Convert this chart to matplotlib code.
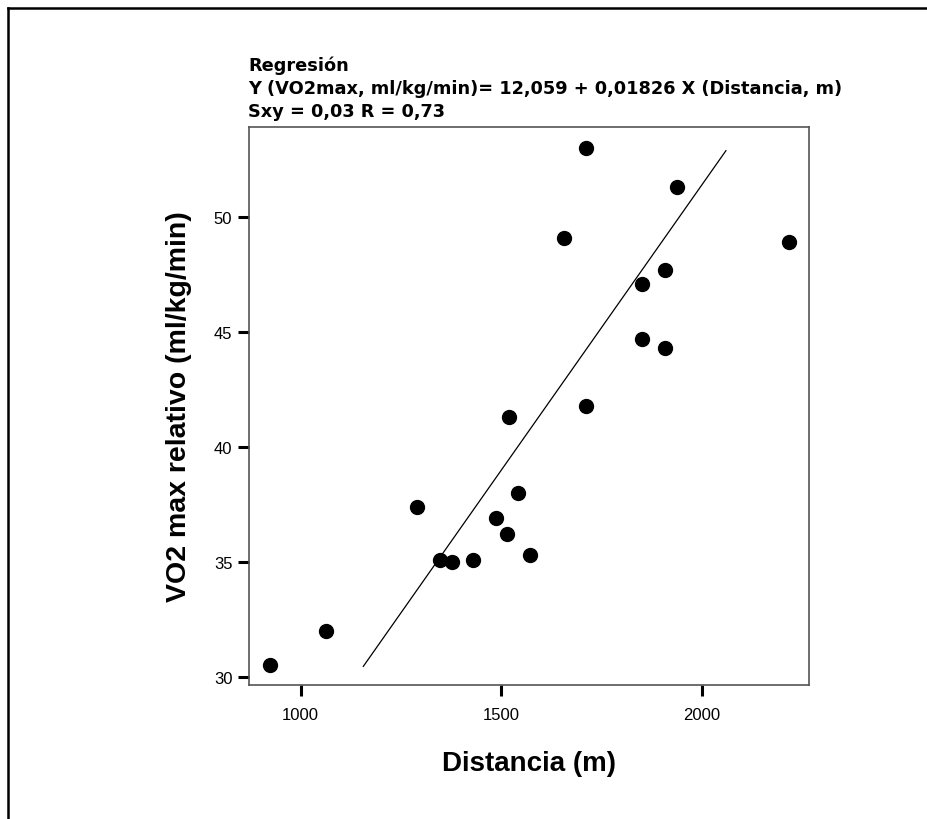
import numpy as np
import matplotlib.pyplot as plt
from matplotlib.lines import Line2D

# data
distancia = [923, 1064, 1289, 1347, 1376, 1429, 1486, 1515, 1518, 1541,
             1572, 1657, 1711, 1711, 1850, 1850, 1908, 1908, 1938, 2218]
vo2max = [30.5, 32.0, 37.4, 35.1, 35.0, 35.1, 36.9, 36.2, 41.3, 38.0,
          35.3, 49.1, 53.0, 41.8, 47.1, 44.7, 47.7, 44.3, 51.3, 48.9]

# fitted line as drawn (end points)
fit_x = [1156, 2060]
fit_y = [30.46, 52.88]

titulo = ['Regresión',
          'Y (VO2max, ml/kg/min)= 12,059 + 0,01826 X (Distancia, m)',
          'Sxy = 0,03 R = 0,73']

plt.rcParams['font.family'] = ['Liberation Sans', 'DejaVu Sans']

fig = plt.figure(figsize=(9.28, 8.2), dpi=100)
ax = fig.add_axes([0.2683, 0.1634, 0.6034, 0.6805])

ax.plot(fit_x, fit_y, color='black', linewidth=0.9)
ax.plot(distancia, vo2max, 'o', color='black', markersize=10)

ax.set_xlim(871, 2267)
ax.set_ylim(29.65, 53.91)
ax.set_xticks([1000, 1500, 2000])
ax.set_yticks([30, 35, 40, 45, 50])

for s in ax.spines.values():
    s.set_color('#555555')
    s.set_linewidth(1.2)
ax.tick_params(direction='out', length=8, width=2.2, color='black',
               labelsize=12, pad=4)
ax.tick_params(axis='x', pad=8)

ax.set_xlabel('Distancia (m)', fontsize=20, fontweight='bold', labelpad=20)
ax.set_ylabel('VO2 max relativo (ml/kg/min)', fontsize=20.5, fontweight='bold', labelpad=16)

# title block
ys = [66, 89, 112]
for t, y in zip(titulo, ys):
    fig.text(248 / 928, 1 - y / 820, t, fontsize=12.8, fontweight='bold',
             family='DejaVu Sans', ha='left', va='center')

# outer frame (left and top only)
fig.add_artist(Line2D([7.5 / 928, 7.5 / 928], [0, 1 - 9 / 820], color='black',
                      linewidth=1.8, transform=fig.transFigure))
fig.add_artist(Line2D([7.5 / 928, 1], [1 - 9 / 820, 1 - 9 / 820], color='black',
                      linewidth=1.8, transform=fig.transFigure))

plt.savefig('out.png', dpi=100)
